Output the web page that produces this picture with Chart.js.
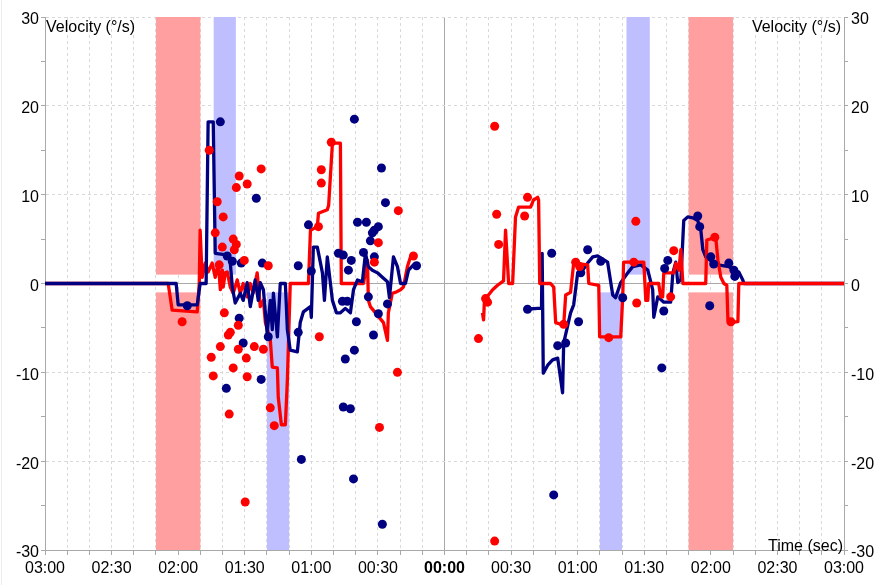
<!DOCTYPE html>
<html>
<head>
<meta charset="utf-8">
<script src="https://cdn.jsdelivr.net/npm/chart.js@4.4.1/dist/chart.umd.min.js"></script>
<style>
  html, body { margin: 0; padding: 0; background: #fff; }
  #wrap { width: 881px; height: 585px; }
</style>
</head>
<body>
<div id="wrap"><canvas id="velChart" width="881" height="585"></canvas></div>
<script>
// time in seconds (negative = before 00:00), velocity in deg/s
const leftRed = [[-180,0],[-124.5,0],[-122.7,-3.0],[-111.4,-3.2],[-110.5,0],[-110.1,6.0],[-109.2,0.7],[-107.8,2.3],[-106.5,1.3],[-104.7,2.3],[-103.3,0.7],[-101.9,2.3],[-101.0,-0.7],[-100.1,1.5],[-99.7,-0.4],[-98.8,1.2],[-97.9,1.3],[-96.5,-0.4],[-95.2,-1.1],[-93.4,0.4],[-92.0,-1.1],[-90.7,0],[-88.9,-1.5],[-87.5,0],[-86.2,-1.1],[-84.4,1.2],[-83.0,-2.6],[-81.6,-1.9],[-80.7,-4.4],[-78.5,-6.3],[-77.6,-9.4],[-75.3,-9.5],[-74.9,-12.8],[-73.5,-15.9],[-71.7,-15.9],[-70.8,-10.9],[-69.5,0],[-61.3,0],[-60.4,6.0],[-57.3,6.4],[-56.8,7.9],[-52.8,8.3],[-52.2,8.8],[-50.5,15.8],[-46.9,15.8],[-46.5,0],[-36.5,0],[-34.7,2.6],[-34.3,-1.9],[-33.4,-2.6],[-27.5,-4.4],[-25.7,-6.4],[-25.3,-3.3],[-23.5,-1.1],[-22.1,-1.0],[-19.8,-0.7],[-18.5,-0.4],[-16.7,1.9],[-15.3,3.0],[-12.6,3.2]];
const leftNavy = [[-180,0],[-120.9,0],[-120.0,-2.4],[-111.4,-2.4],[-110.1,0],[-107.4,0],[-106.5,18.2],[-104.2,18.2],[-103.3,3.4],[-97.4,3.2],[-96.5,2.3],[-95.6,-0.4],[-94.3,-2.2],[-92.0,-1.1],[-90.7,-1.9],[-88.9,0.1],[-87.5,-2.6],[-85.3,0.4],[-83.9,-1.9],[-83.0,0.1],[-81.6,-0.7],[-79.9,-5.6],[-78.5,-1.9],[-77.6,-5.2],[-77.1,-1.1],[-75.3,-6.0],[-74.0,0],[-71.7,0],[-70.8,-5.2],[-69.5,-7.5],[-66.3,-7.7],[-65.0,-4.4],[-63.6,-3.2],[-60.4,-2.6],[-60.0,-3.8],[-59.1,4.1],[-57.3,4.1],[-55.0,1.2],[-54.1,-1.9],[-52.8,3.0],[-50.5,-1.9],[-48.7,-3.3],[-46.9,-3.3],[-44.7,-2.8],[-42.4,-3.3],[-41.0,-0.7],[-39.2,0.4],[-37.0,0.2],[-35.6,3.4],[-34.3,1.9],[-32.5,1.5],[-30.2,1.2],[-28.0,0.7],[-25.7,0.2],[-24.8,-1.6],[-23.0,3.0],[-21.2,1.9],[-19.8,0],[-17.6,0],[-16.2,1.5],[-14.0,2.1],[-11.7,2.0]];
const rightRed = [[17.1,-3.3],[17.6,-4.1],[18.0,-1.9],[19.8,-1.3],[21.7,-0.7],[23.9,-0.2],[26.6,0.3],[27.5,6.0],[28.9,0],[30.7,0],[32.0,7.5],[33.4,8.6],[38.8,8.6],[40.1,9.4],[42.0,9.7],[42.4,9.4],[42.9,0],[47.8,0],[49.2,-0.4],[50.1,-4.4],[53.7,-4.7],[54.6,-1.3],[56.8,-1.0],[58.2,2.3],[64.5,2.1],[65.0,0],[69.5,-0.2],[69.9,-6.0],[79.4,-6.0],[80.3,-1.5],[80.7,2.4],[89.8,2.4],[90.7,-1.9],[91.6,-1.9],[92.0,0],[96.5,0],[97.4,-1.5],[98.3,-1.5],[98.8,1.2],[103.3,1.2],[104.2,2.3],[105.6,1.5],[106.5,3.8],[107.4,0],[117.7,0],[118.2,4.9],[122.2,5.2],[123.2,2.6],[124.5,0.7],[125.9,0],[127.2,-0.2],[127.7,-4.1],[129.0,-4.4],[132.2,-4.3],[132.6,0],[180,0]];
const rightNavy = [[37.0,-2.9],[42.0,-2.8],[43.7,-2.8],[44.0,3.4],[44.5,-10.1],[46.5,-9.2],[48.7,-8.6],[51.0,-8.4],[53.2,-12.3],[53.7,-6.7],[56.8,-3.3],[58.2,-2.4],[60.0,1.2],[62.3,1.5],[64.5,2.3],[66.8,3.0],[69.0,3.1],[73.5,2.4],[75.8,-1.3],[77.1,-1.6],[79.4,0.1],[82.6,1.2],[84.8,1.9],[88.4,2.1],[91.6,1.5],[93.8,-0.7],[94.3,-3.8],[96.1,-1.5],[98.8,-2.1],[101.9,-2.1],[102.9,1.2],[104.2,2.4],[105.1,0.1],[106.5,0.4],[107.8,7.1],[109.6,7.5],[111.9,7.4],[114.1,7.1],[115.5,6.0],[116.4,3.8],[117.7,3.0],[120.9,2.4],[123.2,2.1],[128.1,1.9],[130.4,1.5],[132.6,1.3],[134.4,0.4],[134.9,0],[180,0]];

// individual samples
const redDots = [[-106.0,15.0],[-92.5,12.1],[-82.6,12.9],[-93.8,10.8],[-88.9,11.2],[-102.4,9.2],[-99.7,7.5],[-103.3,5.7],[-95.2,5.0],[-93.8,4.4],[-94.7,3.8],[-100.1,4.1],[-90.2,2.6],[-79.4,2.0],[-101.5,2.1],[-118.2,-4.3],[-99.2,-3.3],[-97.4,-5.8],[-96.5,-5.5],[-92.9,-4.7],[-101.0,-7.1],[-105.1,-8.3],[-92.9,-7.4],[-89.3,-8.4],[-85.7,-7.1],[-81.6,-7.4],[-95.2,-9.5],[-104.2,-10.4],[-88.9,-10.5],[-78.5,-14.0],[-76.7,-16.0],[-97.0,-14.7],[-89.8,-24.6],[-55.5,12.8],[-55.5,11.3],[-51.0,15.9],[-56.8,6.4],[-20.8,8.2],[-29.8,4.6],[-31.6,2.4],[-14.0,3.1],[-56.4,-6.0],[-21.2,-10.0],[-29.3,-16.2],
  [22.6,17.7],[23.5,7.8],[24.4,4.4],[37.4,9.7],[36.1,7.6],[18.5,-1.7],[19.4,-2.1],[59.1,2.4],[60.9,1.9],[85.3,2.4],[86.2,7.0],[86.6,-2.2],[15.3,-6.2],[53.7,-4.6],[74.0,-6.1],[22.6,-29.0],[103.3,3.7],[101.9,-1.5],[121.8,5.2],[129.0,-4.3]];
const navyDots = [[-101.0,18.2],[-84.8,9.6],[-115.9,-2.5],[-97.9,3.1],[-95.6,2.5],[-91.6,2.3],[-82.1,2.3],[-65.9,2.0],[-92.5,-3.9],[-90.7,-6.7],[-98.3,-11.8],[-82.6,-10.8],[-79.4,-6.0],[-65.9,-5.5],[-40.6,18.5],[-28.4,13.0],[-61.3,6.6],[-26.6,9.1],[-39.2,6.9],[-35.2,6.9],[-31.6,6.0],[-29.8,6.4],[-32.5,5.7],[-33.4,4.8],[-47.8,3.4],[-45.6,3.2],[-42.0,2.6],[-43.3,1.5],[-36.5,3.5],[-31.6,3.0],[-12.6,2.0],[-60.0,1.4],[-46.0,-2.0],[-43.8,-2.0],[-39.7,-4.3],[-34.3,-1.5],[-29.8,-3.4],[-25.7,-2.3],[-32.0,-5.8],[-40.6,-7.5],[-44.7,-8.5],[-45.6,-13.9],[-42.4,-14.1],[-64.5,-19.8],[-41.0,-22.0],[-28.0,-27.1],
  [48.3,3.4],[64.5,3.8],[70.4,2.5],[61.4,1.2],[80.3,-1.6],[37.4,-2.9],[51.0,-7.0],[54.6,-6.7],[60.4,-4.3],[49.2,-23.8],[114.1,7.6],[115.0,6.4],[100.6,2.6],[99.2,1.7],[120.0,3.0],[121.3,2.2],[128.1,2.3],[130.4,1.5],[130.8,0.8],[98.8,-3.1],[119.5,-2.5],[97.9,-9.5]];

// shaded intervals (seconds); bands stop just short of the zero line
const redBands = [[-130,-110],[110,130]];
const blueUpperBands = [[-104,-94],[82,92.5]];
const blueLowerBands = [[-80,-70],[70,80]];
const bandGap = 1;

const xMin = -180, xMax = 180, yMin = -30, yMax = 30;

const toXY = (arr) => arr.map(([x, y]) => ({ x, y }));

function fmtTime(v) {
  const s = Math.abs(v);
  const mm = String(Math.floor(s / 60)).padStart(2, "0");
  const ss = String(s % 60).padStart(2, "0");
  return `${mm}:${ss}`;
}

const gridGray = "#d9d9d9";
const axisGray = "#a9a9a9";
const fontFamily = "'Liberation Sans', Arial, sans-serif";

const bandsPlugin = {
  id: "bands",
  beforeDatasetsDraw(chart) {
    const { ctx, scales } = chart;
    const xs = scales.x, ys = scales.y;
    const fill = (x0, x1, y0, y1, color) => {
      const px0 = xs.getPixelForValue(x0), px1 = xs.getPixelForValue(x1);
      const py0 = ys.getPixelForValue(y0), py1 = ys.getPixelForValue(y1);
      ctx.fillStyle = color;
      ctx.fillRect(px0, py0, px1 - px0, py1 - py0);
    };
    ctx.save();
    redBands.forEach(([a, b]) => {
      fill(a, b, yMax, bandGap, "#ff9f9f");
      fill(a, b, -bandGap, yMin, "#ff9f9f");
    });
    blueUpperBands.forEach(([a, b]) => fill(a, b, yMax, bandGap, "#bfbfff"));
    blueLowerBands.forEach(([a, b]) => fill(a, b, -bandGap, yMin, "#bfbfff"));
    ctx.restore();
  },
  afterDraw(chart) {
    const { ctx, chartArea } = chart;
    ctx.save();
    ctx.fillStyle = "#000";
    ctx.font = `16px ${fontFamily}`;
    ctx.textBaseline = "middle";
    ctx.textAlign = "left";
    ctx.fillText("Velocity (°/s)", chartArea.left + 1, 28);
    ctx.textAlign = "right";
    ctx.fillText("Velocity (°/s)", chartArea.right - 3, 28);
    ctx.fillText("Time (sec)", chartArea.right - 1, 547);
    // faint frame line along the left edge
    ctx.strokeStyle = "#ececec";
    ctx.lineWidth = 1;
    ctx.beginPath();
    ctx.moveTo(1.5, 0);
    ctx.lineTo(1.5, 585);
    ctx.stroke();
    ctx.restore();
  },
};

const lineStyle = (data, color, order) => ({
  data: toXY(data),
  showLine: true,
  borderColor: color,
  backgroundColor: color,
  borderWidth: 3.3,
  borderJoinStyle: "round",
  pointRadius: 0,
  tension: 0,
  order,
});

const dotStyle = (data, color, order) => ({
  data: toXY(data),
  showLine: false,
  backgroundColor: color,
  borderColor: color,
  borderWidth: 0,
  pointRadius: 4.5,
  order,
});

const yGrid = {
  color: (c) => {
    const v = c.tick.value;
    if (v === 0) return axisGray;
    return v % 10 === 0 ? gridGray : "rgba(0,0,0,0)";
  },
  tickColor: axisGray,
  tickLength: 4,
};

new Chart(document.getElementById("velChart"), {
  type: "scatter",
  data: {
    datasets: [
      lineStyle(leftRed, "#ff0000", 6),
      lineStyle(leftNavy, "#000080", 5),
      lineStyle(rightNavy, "#000080", 6),
      lineStyle(rightRed, "#ff0000", 5),
      dotStyle(navyDots, "#000080", 2),
      dotStyle(redDots, "#ff0000", 1),
    ],
  },
  options: {
    responsive: false,
    animation: false,
    events: [],
    layout: { padding: { top: 17, left: 0, right: 0, bottom: 0 } },
    plugins: { legend: { display: false }, tooltip: { enabled: false } },
    scales: {
      x: {
        type: "linear",
        min: xMin,
        max: xMax,
        afterFit: (s) => { s.height = 35; },
        afterBuildTicks: (s) => {
          s.ticks = [];
          for (let v = xMin; v <= xMax; v += 10) s.ticks.push({ value: v });
        },
        ticks: {
          autoSkip: false,
          maxRotation: 0,
          padding: 4,
          color: "#000",
          font: (c) => ({
            size: 16,
            family: fontFamily,
            weight: c.tick && c.tick.value === 0 ? "bold" : "normal",
          }),
          callback: (v) => (v % 30 === 0 ? fmtTime(v) : ""),
        },
        grid: {
          color: (c) => (c.tick.value === 0 ? axisGray : gridGray),
          tickColor: axisGray,
          tickLength: 5,
        },
        border: {
          color: axisGray,
          dash: (c) => (c.tick && c.tick.value === 0 ? [] : [3, 3]),
        },
      },
      y: {
        position: "left",
        min: yMin,
        max: yMax,
        afterFit: (s) => { s.width = 45; },
        ticks: {
          stepSize: 5,
          padding: 2,
          labelOffset: 3,
          color: "#000",
          font: { size: 16, family: fontFamily },
          callback: (v) => (v % 10 === 0 ? String(v) : ""),
        },
        grid: yGrid,
        border: {
          color: axisGray,
          dash: (c) => (c.tick && c.tick.value === 0 ? [] : [3, 3]),
        },
      },
      y2: {
        position: "right",
        min: yMin,
        max: yMax,
        afterFit: (s) => { s.width = 37; },
        ticks: {
          stepSize: 5,
          padding: 3,
          labelOffset: 3,
          color: "#000",
          font: { size: 16, family: fontFamily },
          callback: (v) => (v % 10 === 0 ? String(v) : ""),
        },
        grid: { drawOnChartArea: false, color: axisGray, tickLength: 4 },
        border: { color: axisGray },
      },
    },
  },
  plugins: [bandsPlugin],
});
</script>
</body>
</html>
